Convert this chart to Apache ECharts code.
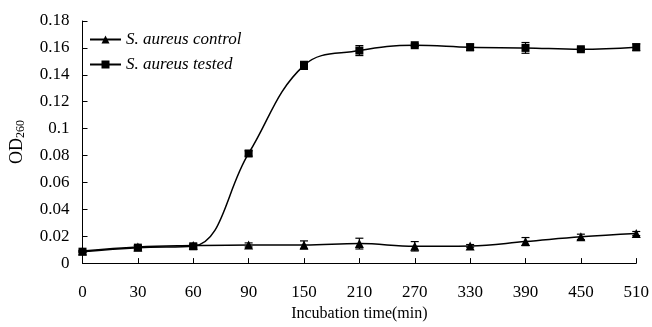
<!DOCTYPE html>
<html>
<head>
<meta charset="utf-8">
<script src="https://cdn.jsdelivr.net/npm/echarts@6/dist/echarts.min.js"></script>
<style>
html,body{margin:0;padding:0;background:#fff;}
#chart{width:652px;height:327px;}
</style>
</head>
<body>
<div id="chart"></div>
<script>
var categories = ['0','30','60','90','150','210','270','330','390','450','510'];
var controlValues = [0.009,0.012,0.013,0.0135,0.0135,0.0145,0.0125,0.0128,0.016,0.0195,0.022];
var controlErr    = [0.0005,0.001,0.001,0.0015,0.003,0.004,0.0035,0.001,0.003,0.002,0.0015];
var testedValues  = [0.0085,0.0115,0.0125,0.0815,0.147,0.158,0.162,0.1605,0.16,0.159,0.1605];
var testedErr     = [0.0005,0.0015,0.0015,0.002,0.003,0.0037,0.001,0.0025,0.004,0.001,0.0025];
var yTicks = [0,0.02,0.04,0.06,0.08,0.1,0.12,0.14,0.16,0.18];

var FONT = '"Liberation Serif","Times New Roman",serif';

function errSeries(vals, errs, name) {
  return {
    type: 'custom',
    name: name + ' err',
    z: 5,
    silent: true,
    data: vals.map(function (v, i) { return [i, v - errs[i], v + errs[i]]; }),
    renderItem: function (params, api) {
      var lo = api.coord([api.value(0), api.value(1)]);
      var hi = api.coord([api.value(0), api.value(2)]);
      var w = 4;
      var st = { stroke: '#000', lineWidth: 1.2 };
      return {
        type: 'group',
        children: [
          { type: 'line', shape: { x1: lo[0], y1: lo[1], x2: hi[0], y2: hi[1] }, style: st },
          { type: 'line', shape: { x1: lo[0] - w, y1: lo[1], x2: lo[0] + w, y2: lo[1] }, style: st },
          { type: 'line', shape: { x1: hi[0] - w, y1: hi[1], x2: hi[0] + w, y2: hi[1] }, style: st }
        ]
      };
    }
  };
}

var chart = echarts.init(document.getElementById('chart'));
chart.setOption({
  animation: false,
  backgroundColor: '#fff',
  textStyle: { fontFamily: FONT, color: '#000' },
  grid: { left: 80, right: 15, top: 21, bottom: 53, containLabel: false },
  legend: {
    data: ['S. aureus control', 'S. aureus tested'],
    orient: 'vertical',
    left: 84,
    top: 26,
    itemWidth: 31,
    itemHeight: 10,
    itemGap: 8,
    textStyle: { fontFamily: FONT, fontStyle: 'italic', fontSize: 17, color: '#000' }
  },
  xAxis: {
    type: 'category',
    data: categories,
    boundaryGap: false,
    name: 'Incubation time(min)',
    nameLocation: 'middle',
    nameGap: 37,
    nameTextStyle: { fontFamily: FONT, fontSize: 16, color: '#000' },
    axisLine: { lineStyle: { color: '#000', width: 1 } },
    axisTick: { inside: true, length: 5, alignWithLabel: true, lineStyle: { color: '#000' } },
    axisLabel: { fontFamily: FONT, fontSize: 17, color: '#000', margin: 21 },
    splitLine: { show: false }
  },
  yAxis: {
    type: 'value',
    min: 0,
    max: 0.18,
    interval: 0.02,
    name: '{m|OD}{s|260}',
    nameLocation: 'middle',
    nameGap: 56,
    nameTextStyle: {
      fontFamily: FONT,
      color: '#000',
      rich: {
        m: { fontFamily: FONT, fontSize: 18, color: '#000' },
        s: { fontFamily: FONT, fontSize: 12, color: '#000', verticalAlign: 'bottom', padding: [7, 0, 0, 0] }
      }
    },
    axisLine: { show: true, lineStyle: { color: '#000', width: 1 } },
    axisTick: { show: true, inside: true, length: 5, lineStyle: { color: '#000' } },
    axisLabel: {
      fontFamily: FONT, fontSize: 17, color: '#000', margin: 13,
      formatter: function (v) { return String(Math.round(v * 100) / 100); }
    },
    splitLine: { show: false }
  },
  series: [
    {
      name: 'S. aureus control',
      type: 'line',
      data: controlValues,
      smooth: 0.4,
      symbol: 'triangle',
      symbolSize: 9,
      itemStyle: { color: '#000' },
      lineStyle: { color: '#000', width: 1.5 },
      z: 3
    },
    {
      name: 'S. aureus tested',
      type: 'line',
      data: testedValues,
      smooth: 0.4,
      symbol: 'rect',
      symbolSize: 8,
      itemStyle: { color: '#000' },
      lineStyle: { color: '#000', width: 1.5 },
      z: 4
    },
    errSeries(controlValues, controlErr, 'control'),
    errSeries(testedValues, testedErr, 'tested')
  ]
});
</script>
</body>
</html>
